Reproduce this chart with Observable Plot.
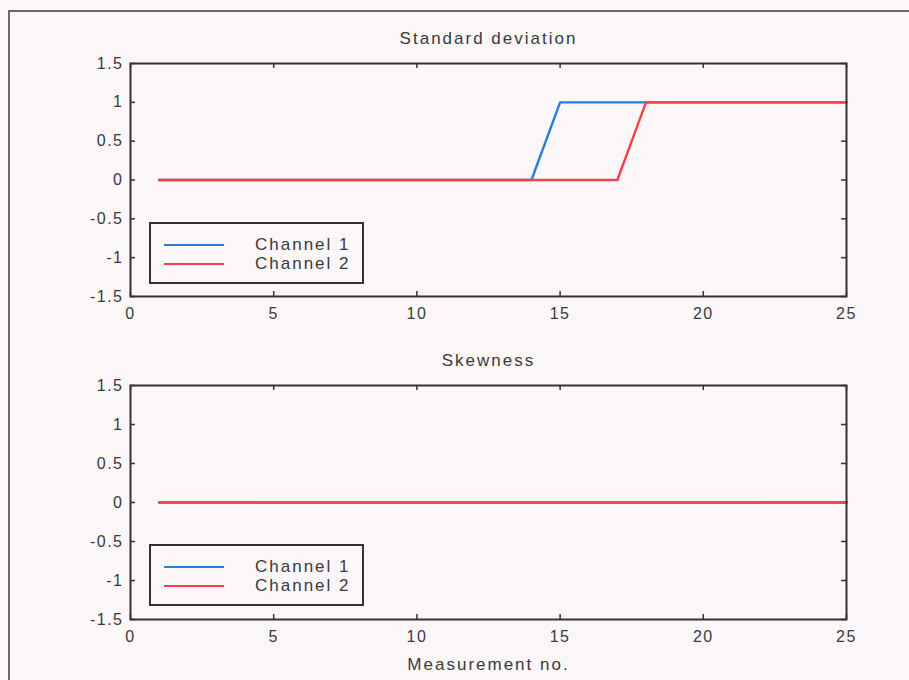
<!DOCTYPE html>
<html>
<head>
<meta charset="utf-8">
<script src="https://cdn.jsdelivr.net/npm/d3@7"></script>
<script src="https://cdn.jsdelivr.net/npm/@observablehq/plot@0.6"></script>
<style>
  html, body { margin: 0; padding: 0; background: #fbf7f8; overflow: hidden; }
  #root { position: relative; width: 909px; height: 680px; overflow: hidden; background: #fbf7f8; }
  #outer { position: absolute; left: 8px; top: 10px; width: 1000px; height: 1000px; border: 2px solid #6a6a6a; box-sizing: border-box; }
  .legend { position: absolute; box-sizing: border-box; border: 2px solid #333; background: #fbf7f8;
            font-family: "Liberation Sans", Arial, sans-serif; font-size: 17px; letter-spacing: 2px; color: #3a3a3a; }
  .legend .row { position: absolute; left: 0; height: 20px; width: 100%; }
  .legend .sw { position: absolute; left: 13px; width: 60px; height: 0; border-top: 2.5px solid; top: 9px; }
  .legend .lb { position: absolute; left: 104px; top: 0; line-height: 20px; }
  svg .title-text { letter-spacing: 2px; }
</style>
</head>
<body>
<div id="root"><div id="outer"></div></div>
<script>
// ---- data ----
const measurement = [1,2,3,4,5,6,7,8,9,10,11,12,13,14,15,16,17,18,19,20,21,22,23,24,25];
const stdChannel1 = [0,0,0,0,0,0,0,0,0,0,0,0,0,0,1,1,1,1,1,1,1,1,1,1,1];
const stdChannel2 = [0,0,0,0,0,0,0,0,0,0,0,0,0,0,0,0,0,1,1,1,1,1,1,1,1];
const skewChannel1 = [0,0,0,0,0,0,0,0,0,0,0,0,0,0,0,0,0,0,0,0,0,0,0,0,0];
const skewChannel2 = [0,0,0,0,0,0,0,0,0,0,0,0,0,0,0,0,0,0,0,0,0,0,0,0,0];
const seriesNames = ["Channel 1", "Channel 2"];
const seriesColors = ["#2a7ed8", "#f4404c"];
const xTicks = [0, 5, 10, 15, 20, 25];
const yTicks = [-1.5, -1, -0.5, 0, 0.5, 1, 1.5];
const titles = ["Standard deviation", "Skewness"];
const xAxisLabel = "Measurement no.";

// ---- layout ----
const W = 909, ML = 130, MR = 63;
const xDomain = [0, 25], yDomain = [-1.5, 1.5];
const root = document.getElementById("root");

function panel({title, ch1, ch2, top, height, marginTop, marginBottom, xLabel, legendTop}) {
  const plotH = height - marginTop - marginBottom;
  const plotW = W - ML - MR;
  const tickPx = 5;
  const tyLen = tickPx * (yDomain[1] - yDomain[0]) / plotH;
  const txLen = tickPx * (xDomain[1] - xDomain[0]) / plotW;
  const s1 = measurement.map((m, i) => ({m, v: ch1[i], s: seriesNames[0]}));
  const s2 = measurement.map((m, i) => ({m, v: ch2[i], s: seriesNames[1]}));
  const tickStyle = {stroke: "#333", strokeWidth: 1.5};
  const marks = [
    Plot.axisX({anchor: "bottom", ticks: xTicks, tickSize: 0, tickPadding: 11, label: null, tickFormat: d => String(d)}),
    Plot.axisY({anchor: "left", ticks: yTicks, tickSize: 0, tickPadding: 7, label: null, tickFormat: d => String(d)}),
    Plot.ruleX(xTicks, {x: d => d, y1: yDomain[0], y2: yDomain[0] + tyLen, ...tickStyle}),
    Plot.ruleX(xTicks, {x: d => d, y1: yDomain[1], y2: yDomain[1] - tyLen, ...tickStyle}),
    Plot.ruleY(yTicks, {y: d => d, x1: xDomain[0], x2: xDomain[0] + txLen, ...tickStyle}),
    Plot.ruleY(yTicks, {y: d => d, x1: xDomain[1], x2: xDomain[1] - txLen, ...tickStyle}),
    Plot.line(s1, {x: "m", y: "v", stroke: "s", strokeWidth: 2.4}),
    Plot.line(s2, {x: "m", y: "v", stroke: "s", strokeWidth: 2.4}),
    Plot.frame({stroke: "#333", strokeWidth: 2}),
    Plot.text([title], {frameAnchor: "top", lineAnchor: "bottom", dy: -20, fontSize: 17, fill: "#3a3a3a", className: "title-text"})
  ];
  if (xLabel) {
    marks.push(Plot.text([xLabel], {frameAnchor: "bottom", lineAnchor: "bottom", dy: 50, fontSize: 17, fill: "#3a3a3a", className: "title-text"}));
  }
  const svg = Plot.plot({
    width: W, height,
    marginLeft: ML, marginRight: MR, marginTop, marginBottom,
    x: {domain: xDomain, axis: null},
    y: {domain: yDomain, axis: null},
    color: {domain: seriesNames, range: seriesColors},
    style: {fontFamily: "'Liberation Sans', Arial, sans-serif", fontSize: "16px", letterSpacing: "1.5px",
            color: "#3a3a3a", background: "transparent", overflow: "visible"},
    marks
  });
  svg.style.position = "absolute";
  svg.style.left = "0px";
  svg.style.top = top + "px";
  root.appendChild(svg);

  // legend
  const lg = document.createElement("div");
  lg.className = "legend";
  lg.style.left = "149px";
  lg.style.top = legendTop + "px";
  lg.style.width = "215px";
  lg.style.height = "62px";
  seriesNames.forEach((name, i) => {
    const row = document.createElement("div");
    row.className = "row";
    row.style.top = (11 + i * 19) + "px";
    const sw = document.createElement("div");
    sw.className = "sw";
    sw.style.borderTopColor = seriesColors[i];
    const lb = document.createElement("div");
    lb.className = "lb";
    lb.textContent = name;
    row.appendChild(sw);
    row.appendChild(lb);
    lg.appendChild(row);
  });
  root.appendChild(lg);
}

panel({title: titles[0], ch1: stdChannel1, ch2: stdChannel2, top: 0, height: 340, marginTop: 63, marginBottom: 44, legendTop: 222});
panel({title: titles[1], ch1: skewChannel1, ch2: skewChannel2, top: 340, height: 340, marginTop: 45, marginBottom: 61, xLabel: xAxisLabel, legendTop: 544});
</script>
</body>
</html>
